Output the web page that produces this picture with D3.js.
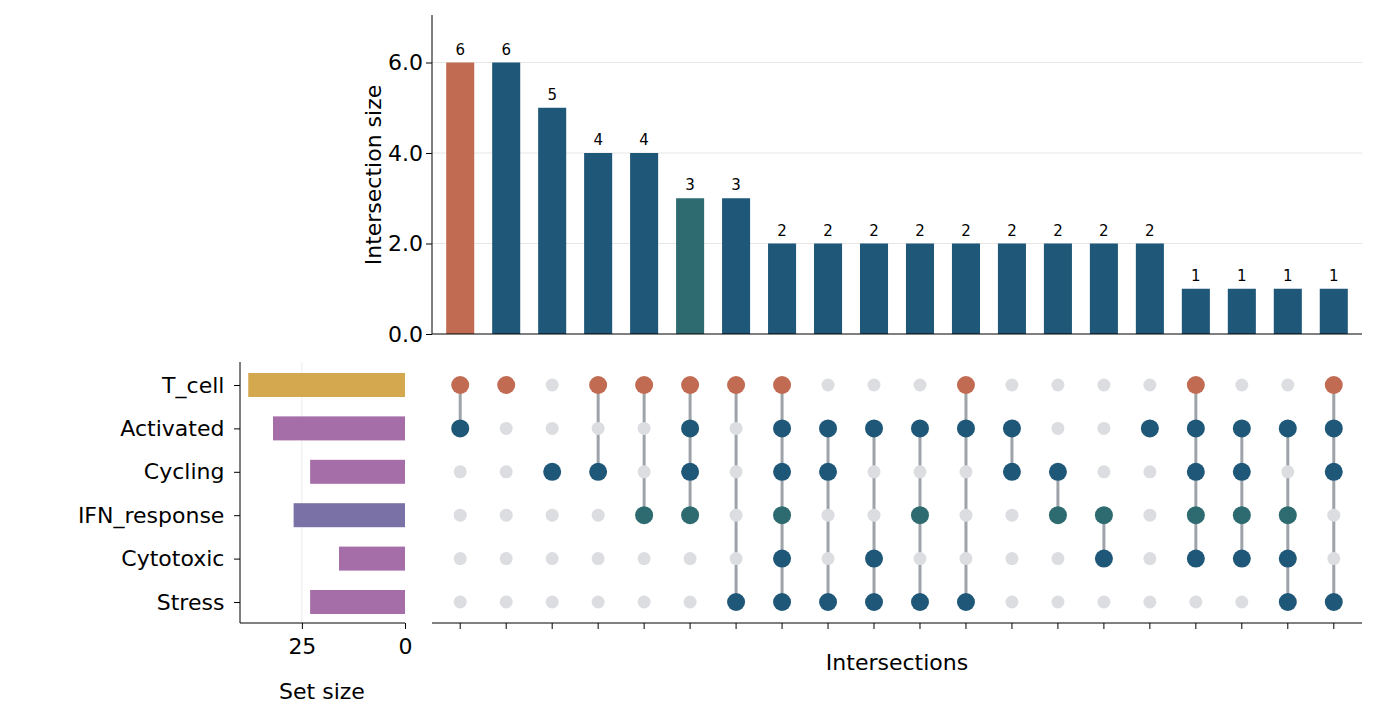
<!DOCTYPE html>
<html><head><meta charset="utf-8">
<script src="https://cdn.jsdelivr.net/npm/d3@7"></script>
<style>body{margin:0;background:#fff}text{font-family:"DejaVu Sans",sans-serif}</style>
</head><body><svg id="c" width="1378" height="722"></svg>
<script>
var sets = ["T_cell","Activated","Cycling","IFN_response","Cytotoxic","Stress"];
var setSizes = [38,32,23,27,16,23];
var setColors = ["#d4a84f","#a66ea8","#a66ea8","#7a72a6","#a66ea8","#a66ea8"];
var counts = [6,6,5,4,4,3,3,2,2,2,2,2,2,2,2,2,1,1,1,1];
var barColors = ["#c06b52","#1f5778","#1f5778","#1f5778","#1f5778","#2e6b70","#1f5778","#1f5778","#1f5778","#1f5778",
  "#1f5778","#1f5778","#1f5778","#1f5778","#1f5778","#1f5778","#1f5778","#1f5778","#1f5778","#1f5778"];
var members = [
  [0,1],[0],[2],[0,2],[0,3],[0,1,2,3],[0,5],[0,1,2,3,4,5],[1,2,5],[1,4,5],
  [1,3,5],[0,1,5],[1,2],[2,3],[3,4],[1],[0,1,2,3,4],[1,2,3,4],[1,3,4,5],[0,1,2,5]];
var dotColors = ["#c06b52","#1f5778","#1f5778","#2e6b70","#1f5778","#1f5778"];
var yTicks = [0,2,4,6];
var sizeTicks = [25,0];

var svg = d3.select("#c");
var x = d3.scaleBand().domain(d3.range(counts.length)).range([437,1357]).paddingInner(0.39).paddingOuter(0.2);
var cx = function(i){ return x(i) + x.bandwidth()/2; };
var y = d3.scaleLinear().domain([0,7.05]).range([334,15]);
var row = d3.scalePoint().domain(d3.range(sets.length)).range([385,602]);
var sx = d3.scaleLinear().domain([0,40]).range([405,240]);

// top bars
svg.append("g").selectAll("line").data(yTicks.slice(1)).join("line")
  .attr("x1",432).attr("x2",1362).attr("y1",d=>y(d)).attr("y2",d=>y(d)).attr("stroke","#e6e6e6");
svg.append("g").selectAll("rect").data(counts).join("rect")
  .attr("x",(d,i)=>x(i)).attr("width",x.bandwidth()).attr("y",d=>y(d)).attr("height",d=>y(0)-y(d))
  .attr("fill",(d,i)=>barColors[i]);
svg.append("g").selectAll("text").data(counts).join("text")
  .attr("x",(d,i)=>cx(i)).attr("y",d=>y(d)-8).attr("text-anchor","middle").attr("font-size",15).text(d=>d);
var ya = svg.append("g").attr("transform","translate(432,0)").call(d3.axisLeft(y).tickValues(yTicks).tickSize(6).tickSizeOuter(0));
ya.selectAll("text").attr("font-size",22).attr("fill","#000");
ya.select(".domain").attr("d","M0,15V334");
svg.append("line").attr("x1",432).attr("x2",1362).attr("y1",334).attr("y2",334).attr("stroke","#000");
svg.append("text").attr("transform","translate(381,175) rotate(-90)").attr("text-anchor","middle").attr("font-size",22).text("Intersection size");

// set size bars
svg.append("line").attr("x1",sx(25)).attr("x2",sx(25)).attr("y1",362).attr("y2",623).attr("stroke","#ececec");
svg.append("g").selectAll("rect").data(setSizes).join("rect")
  .attr("x",d=>sx(d)).attr("width",d=>sx(0)-sx(d)).attr("y",(d,i)=>row(i)-12).attr("height",24)
  .attr("fill",(d,i)=>setColors[i]);
var sa = svg.append("g").attr("transform","translate(0,623)").call(d3.axisBottom(sx).tickValues(sizeTicks).tickSizeOuter(0));
sa.selectAll("text").attr("font-size",22).attr("fill","#000").attr("dy","1em");
sa.select(".domain").attr("d","M240,0H405");
var la = svg.append("g").attr("transform","translate(240,0)").call(d3.axisLeft(row).tickFormat(i=>sets[i]).tickSizeOuter(0));
la.selectAll("text").attr("font-size",22).attr("fill","#000").attr("dx","-0.3em");
la.select(".domain").attr("d","M0,362V623");
svg.append("text").attr("x",322).attr("y",699).attr("text-anchor","middle").attr("font-size",22).text("Set size");

// matrix
var g = svg.append("g");
members.forEach(function(m,i){
  if(m.length>1) g.append("line").attr("x1",cx(i)).attr("x2",cx(i)).attr("y1",row(d3.min(m))).attr("y2",row(d3.max(m)))
    .attr("stroke","#9ea3aa").attr("stroke-width",3);
  sets.forEach(function(s,j){
    var on = m.indexOf(j)>=0;
    g.append("circle").attr("cx",cx(i)).attr("cy",row(j)).attr("r",on?9:6.5).attr("fill",on?dotColors[j]:"#dcdde1");
  });
});
var xa = svg.append("g").attr("transform","translate(0,623)").call(d3.axisBottom(x).tickFormat("").tickSizeOuter(0));
xa.select(".domain").attr("d","M432,0H1362");
svg.append("text").attr("x",897).attr("y",670).attr("text-anchor","middle").attr("font-size",22).text("Intersections");
</script></body></html>
